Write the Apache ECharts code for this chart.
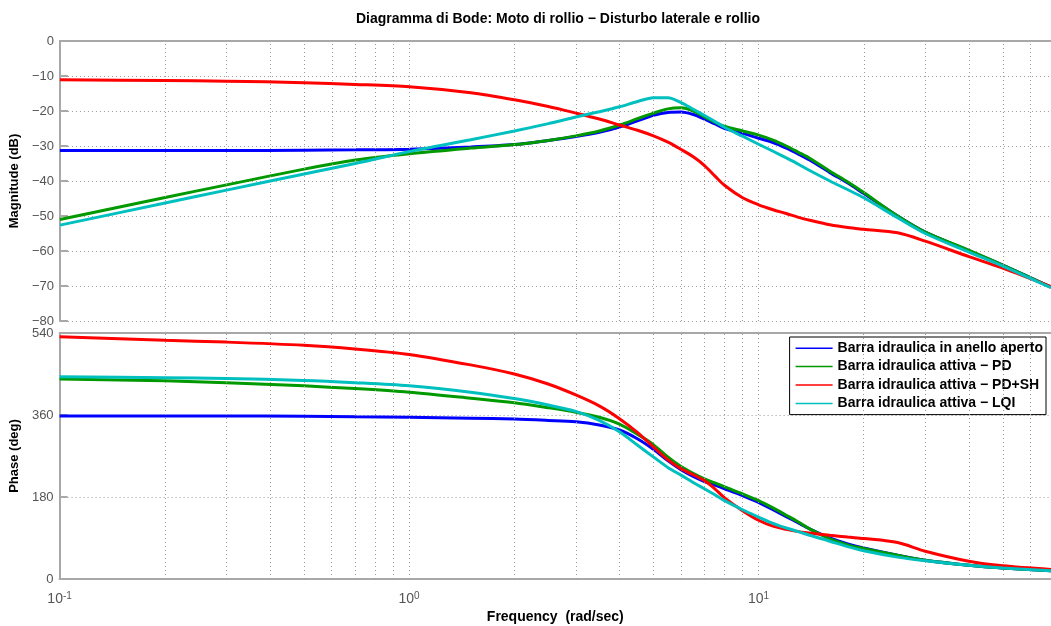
<!DOCTYPE html>
<html>
<head>
<meta charset="utf-8">
<script src="https://cdn.jsdelivr.net/npm/echarts@6/dist/echarts.min.js"></script>
<style>html,body{margin:0;padding:0;background:#fff}#c{width:1051px;height:626px}</style>
</head>
<body>
<div id="c"></div>
<script>
const titleText = 'Diagramma di Bode: Moto di rollio \u2212 Disturbo laterale e rollio';
const seriesNames = ['Barra idraulica in anello aperto', 'Barra idraulica attiva \u2212 PD', 'Barra idraulica attiva \u2212 PD+SH', 'Barra idraulica attiva \u2212 LQI'];
const seriesColors = ['#0000ff', '#009900', '#ff0000', '#00bfbf'];
const xMin = 0.1, xMax = 68.7;
const magTicks = [-80, -70, -60, -50, -40, -30, -20, -10, 0];
const phaseTicks = [0, 180, 360, 540];

const freq = [0.1, 0.2, 0.3, 0.5, 0.7, 1, 1.5, 2, 2.5, 3, 3.5, 4, 4.5, 5, 5.5, 6, 6.5, 7, 7.5, 8, 9, 10, 11, 12, 13, 14, 16, 18, 20, 25, 30, 40, 50, 68.7];

const magOpen = [-31.3, -31.3, -31.3, -31.2, -31.1, -30.9, -30.3, -29.6, -28.4, -27.3, -26.1, -24.6, -22.8, -21.2, -20.4, -20.3, -21.0, -22.3, -23.7, -25.0, -26.4, -27.8, -29.0, -30.6, -32.3, -34.0, -37.6, -40.6, -43.6, -50.0, -54.6, -59.9, -64.0, -70.3];
const magPD = [-51.0, -44.7, -41.1, -36.6, -34.0, -32.2, -30.6, -29.6, -28.4, -27.1, -25.7, -24.0, -22.2, -20.6, -19.4, -19.1, -20.0, -21.7, -23.2, -24.4, -25.7, -26.9, -28.3, -30.0, -31.8, -33.5, -37.2, -40.3, -43.3, -50.0, -54.6, -59.8, -64.0, -70.3];
const magPDSH = [-11.1, -11.3, -11.5, -11.9, -12.4, -13.1, -14.8, -16.8, -18.7, -20.6, -22.3, -24.0, -25.5, -27.1, -28.9, -31.0, -33.1, -35.6, -38.6, -41.3, -44.8, -46.8, -48.2, -49.3, -50.4, -51.2, -52.5, -53.3, -53.8, -54.8, -57.2, -61.6, -64.9, -70.2];
const magLQI = [-52.6, -46.3, -42.6, -38.0, -35.0, -31.6, -28.2, -25.7, -23.6, -21.7, -20.2, -18.8, -17.3, -16.2, -16.2, -17.6, -19.5, -21.3, -23.0, -24.7, -27.2, -29.5, -31.5, -33.4, -35.2, -37.0, -40.0, -42.5, -44.8, -50.5, -55.0, -60.3, -64.3, -70.5];

const phOpen = [358, 358, 358, 357, 356, 355, 353, 351, 348, 345, 338, 327, 308, 285, 260, 240, 225, 214, 206, 198, 183, 168, 152, 137, 123, 110, 90, 77, 68, 52, 41, 30, 24, 18];
const phPD = [439, 435, 431, 424, 418, 410, 397, 387, 376, 366, 355, 340, 318, 295, 268, 247, 232, 220, 211, 202, 187, 172, 156, 140, 125, 110, 88, 75, 67, 52, 41, 30, 24, 18];
const phPDSH = [532, 524, 520, 513, 505, 493, 470, 450, 428, 404, 380, 352, 322, 290, 262, 242, 229, 216, 198, 178, 150, 129, 116, 109, 104, 101, 96, 92, 89, 80, 61, 39, 29, 21];
const phLQI = [444, 442, 440, 436, 431, 424, 410, 396, 382, 368, 348, 323, 294, 268, 245, 228, 212, 198, 185, 172, 152, 136, 122, 112, 104, 96, 83, 71, 62, 48, 40, 30, 24, 18];

const magData = [magOpen, magPD, magPDSH, magLQI];
const phData = [phOpen, phPD, phPDSH, phLQI];

// vertical grid positions (1..9 x 10^k within range)
const vGrid = [];
for (let e = -1; e <= 1; e++) for (let k = 1; k <= 9; k++) {
  const v = k * Math.pow(10, e);
  if (v > xMin * 1.0001 && v < xMax) vGrid.push(v);
}

const axisGray = '#a8a8a8';
const labelGray = '#555';
const gridLine = { type: [1, 3], color: '#9a9a9a', width: 1 };
const font = 'Liberation Sans, Arial, sans-serif';

function pairs(ys) { return freq.map((f, i) => [f, ys[i]]); }
function minusFmt(v) { return v < 0 ? '\u2212' + Math.abs(v) : String(v); }
function powFmt(v) {
  const e = Math.round(Math.log10(v));
  if (Math.abs(v - Math.pow(10, e)) > 1e-6 * v) return '';
  return '{b|10}{s|' + e + '}';
}

function xAx(gi, pos, labels) {
  return {
    type: 'log', logBase: 10, gridIndex: gi, position: pos, min: xMin, max: xMax,
    axisLine: { show: true, lineStyle: { color: axisGray, width: 2 } },
    axisTick: { show: false },
    splitLine: { show: false },
    axisLabel: labels ? {
      show: true, formatter: powFmt, showMaxLabel: false, margin: 12,
      rich: {
        b: { fontFamily: font, fontSize: 14, color: labelGray, lineHeight: 15, verticalAlign: 'bottom' },
        s: { fontFamily: font, fontSize: 10, color: labelGray, lineHeight: 15, verticalAlign: 'top' }
      }
    } : { show: false },
    name: labels ? 'Frequency  (rad/sec)' : '',
    nameLocation: 'middle', nameGap: 31,
    nameTextStyle: { fontFamily: font, fontSize: 14, fontWeight: 'bold', color: '#000' }
  };
}

function yAx(gi, min, max, interval, name) {
  return {
    type: 'value', gridIndex: gi, min: min, max: max, interval: interval,
    name: name, nameLocation: 'middle', nameGap: 24,
    nameTextStyle: { fontFamily: font, fontSize: 13, fontWeight: 'bold', color: '#000' },
    axisLine: { show: true, lineStyle: { color: axisGray, width: 2 } },
    axisTick: { show: true, inside: true, length: 8, lineStyle: { color: axisGray, width: 2 } },
    axisLabel: { formatter: minusFmt, fontFamily: font, fontSize: 13, color: labelGray, margin: 6 },
    splitLine: { show: true, lineStyle: gridLine }
  };
}

const series = [];
for (let i = 0; i < 4; i++) {
  series.push({
    name: seriesNames[i], type: 'line', xAxisIndex: 0, yAxisIndex: 0,
    data: pairs(magData[i]), symbol: 'none', smooth: 0.3,
    lineStyle: { color: seriesColors[i], width: 3 }, itemStyle: { color: seriesColors[i] },
    z: 3 + i, animation: false
  });
}
for (let i = 0; i < 4; i++) {
  series.push({
    name: seriesNames[i], type: 'line', xAxisIndex: 2, yAxisIndex: 1,
    data: pairs(phData[i]), symbol: 'none', smooth: 0.3,
    lineStyle: { color: seriesColors[i], width: 3 }, itemStyle: { color: seriesColors[i] },
    z: 3 + i, animation: false
  });
}
[[0, 0], [2, 1]].forEach(([xi, yi]) => {
  series.push({
    type: 'line', xAxisIndex: xi, yAxisIndex: yi, data: [], silent: true, z: 1,
    animation: false,
    markLine: {
      silent: true, symbol: ['none', 'none'], label: { show: false },
      lineStyle: gridLine, animation: false,
      data: vGrid.map(v => ({ xAxis: v }))
    }
  });
});

const chart = echarts.init(document.getElementById('c'), null, { renderer: 'canvas' });
chart.setOption({
  animation: false,
  backgroundColor: '#fff',
  title: {
    text: titleText, left: 553, top: 7, textAlign: 'center',
    textStyle: { fontFamily: font, fontSize: 14, fontWeight: 'bold', color: '#000' }
  },
  legend: {
    data: seriesNames, orient: 'vertical', right: 5, top: 337,
    icon: 'rect',
    backgroundColor: '#fff', borderColor: '#000', borderWidth: 1, borderRadius: 0,
    padding: [4, 3, 4, 6], itemGap: 4, itemWidth: 37, itemHeight: 1.5,
    textStyle: { fontFamily: font, fontSize: 14, fontWeight: 'bold', color: '#000', lineHeight: 14.4 }
  },
  grid: [
    { left: 58, right: 0, top: 41, height: 280 },
    { left: 58, right: 0, top: 333, height: 246 }
  ],
  xAxis: [xAx(0, 'bottom', false), xAx(0, 'top', false), xAx(1, 'bottom', true), xAx(1, 'top', false)],
  yAxis: [yAx(0, -80, 0, 10, 'Magnitude (dB)'), yAx(1, 0, 540, 180, 'Phase (deg)')],
  series: series
});
</script>
</body>
</html>
